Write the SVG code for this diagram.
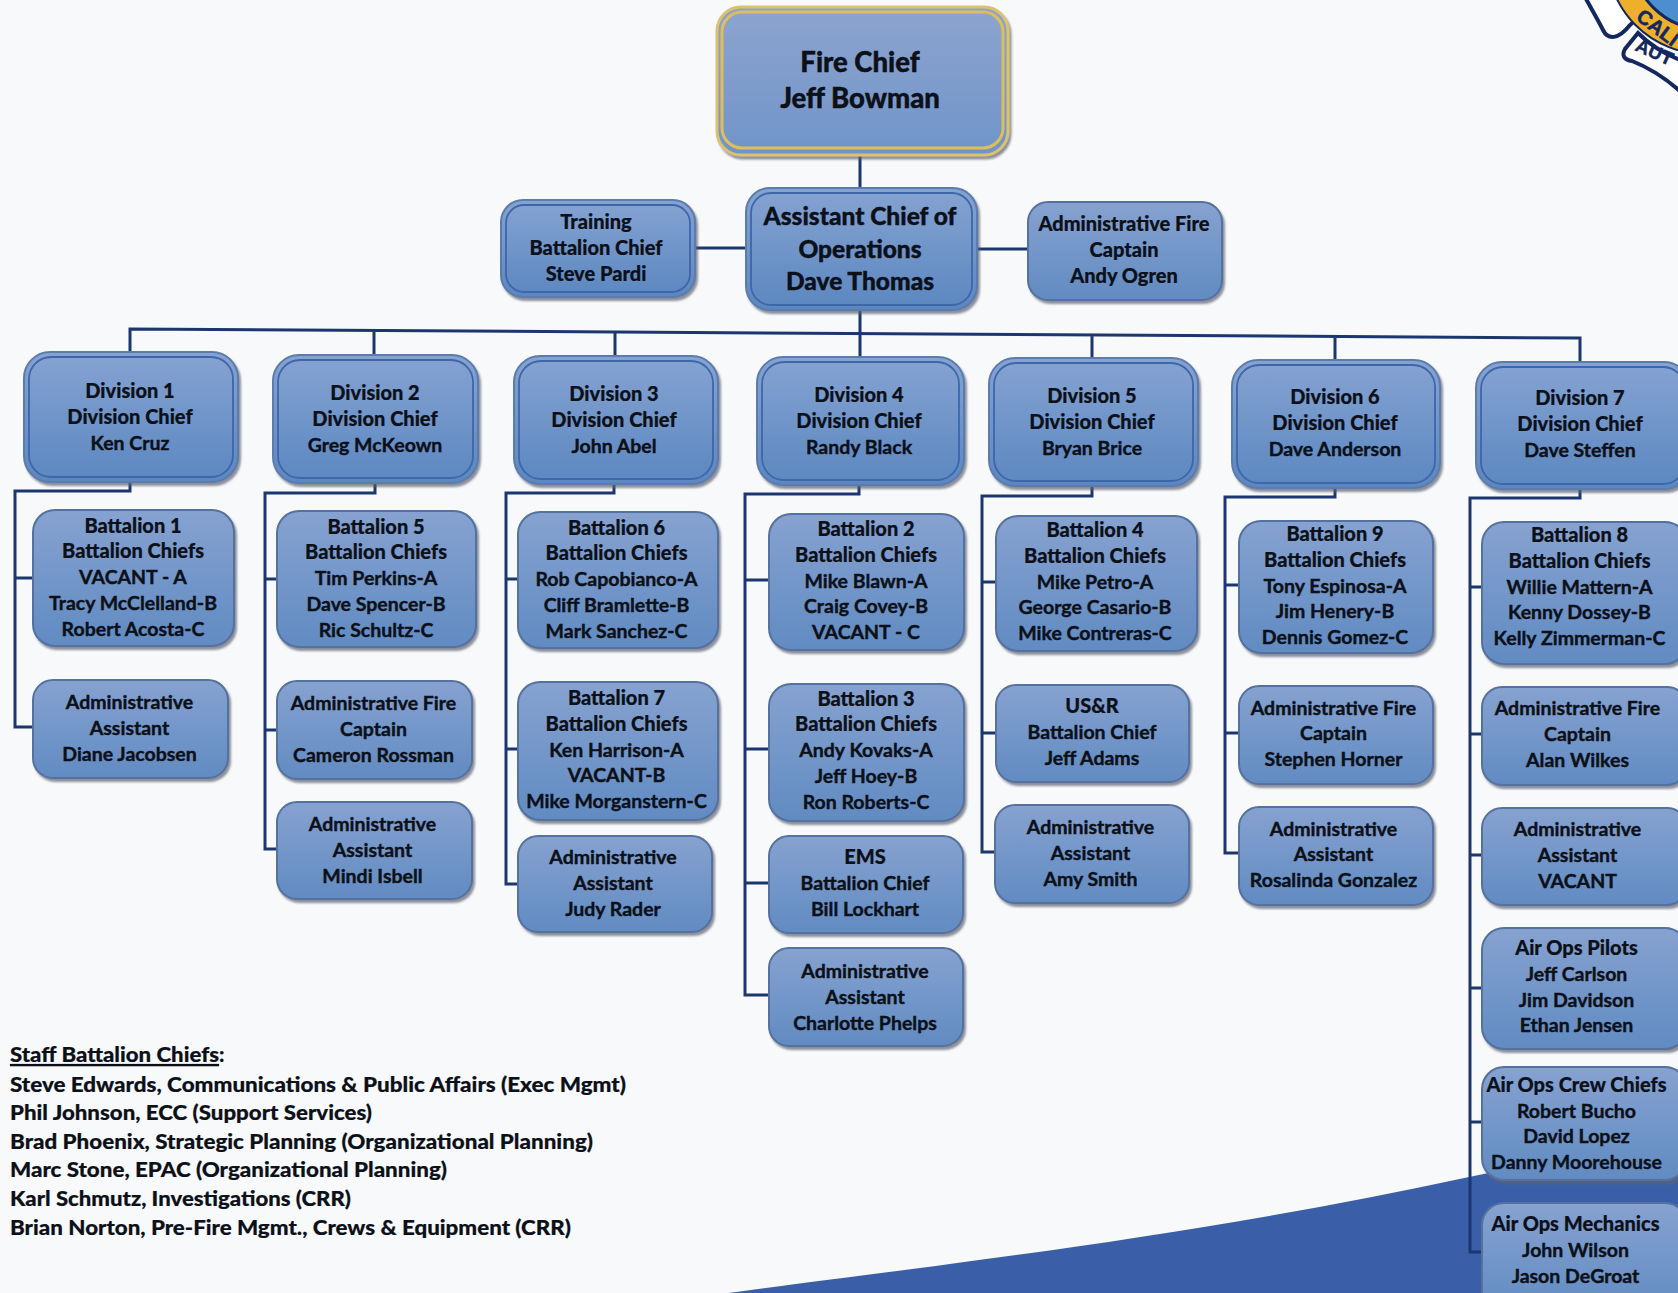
<svg xmlns="http://www.w3.org/2000/svg" width="1678" height="1293" viewBox="0 0 1678 1293">
<style>
text{font-family:Lato,"Liberation Sans",sans-serif;font-weight:700;fill:#0c1018;text-anchor:middle;font-size:19.5px;stroke:#0c1018;stroke-width:.4px}
.h{font-weight:900;font-size:20px;stroke-width:.2px}
.chief{font-size:27.5px;font-weight:900}
.asst{font-size:24.5px;font-weight:900}
.staff{text-anchor:start;font-size:21px;font-weight:900;stroke-width:.2px}
.b{fill:url(#gb);stroke:#55719f;stroke-width:2;filter:url(#sh)}
.d{fill:url(#gd);stroke:#5c7bae;stroke-width:2;filter:url(#sh)}
.i{fill:none;stroke:#3d67a8;stroke-width:1.8}
.c{fill:none;stroke:#1c3670;stroke-width:3}
.logo{text-anchor:start;font-family:"Liberation Sans",sans-serif;font-weight:700;fill:#14275f;stroke:#14275f}
</style>
<defs>
<linearGradient id="gb" x1="0" y1="0" x2="0" y2="1"><stop offset="0" stop-color="#86a2d0"/><stop offset="1" stop-color="#618bc2"/></linearGradient>
<linearGradient id="gd" x1="0" y1="0" x2="0" y2="1"><stop offset="0" stop-color="#86a3d2"/><stop offset="1" stop-color="#5b87c0"/></linearGradient>
<linearGradient id="gc" x1="0" y1="0" x2="0" y2="1"><stop offset="0" stop-color="#8da4cf"/><stop offset="1" stop-color="#7094c8"/></linearGradient>
<filter id="sh" x="-10%" y="-10%" width="125%" height="125%"><feDropShadow dx="2" dy="3" stdDeviation="1" flood-color="#5d6470" flood-opacity=".7"/></filter>
</defs>
<rect width="1678" height="1293" fill="#f8f9fb"/>
<path id="wave" d="M728 1293C880 1272 1180 1240 1469 1177C1550 1160 1620 1143 1678 1128V1293Z" fill="#3a5fa8"/>
<g id="logo">
<path d="M1585 -3C1592 10 1598 20 1603 30C1608 40 1618 40 1630 25L1660 -3Z" fill="#fff" stroke="#14275f" stroke-width="4"/>
<circle cx="1705" cy="-44" r="98" fill="#eeb02a" stroke="#14275f" stroke-width="2"/>
<circle cx="1705" cy="-44" r="73" fill="#4c8fd0" stroke="#14275f" stroke-width="3"/>
<path d="M1638 33L1625 49C1621 56 1625 60 1632 61C1650 68 1665 78 1680 91V60C1665 54 1650 45 1638 33Z" fill="#fff" stroke="#14275f" stroke-width="4"/>
<text class="logo" transform="translate(1635,19) rotate(37)" style="font-size:20px;stroke-width:.5px">CALI</text>
<text class="logo" transform="translate(1634,50) rotate(24)" style="font-size:19px;stroke-width:.4px">AUT</text>
</g>
<g id="connectors">
<path class="c" d="M860 152V188M860 310V358M695 248H746M977 249H1028"/>
<path class="c" d="M130 352V329L1580 338V362M374 331V355M615 332V356M1092 335V358M1335 336V360"/>
<path class="c" d="M130 482V491H15V727H33M15 578H33"/>
<path class="c" d="M375 483V493H265V849H277M265 579H277M265 730H277"/>
<path class="c" d="M614 484V493H506V884H518M506 579H518M506 749H518"/>
<path class="c" d="M859 485V494H745V995H769M745 580H769M745 749H769M745 883H769"/>
<path class="c" d="M1092 486V496H982V852H995M982 582H995M982 733H995"/>
<path class="c" d="M1335 488V497H1225V853H1239M1225 585H1239M1225 733H1239"/>
<path class="c" d="M1580 489V498H1470V1252H1482M1470 587H1482M1470 734H1482M1470 855H1482M1470 988H1482M1470 1122H1482"/>
</g>
<g id="fire-chief"><rect x="717" y="7" width="291" height="148" rx="24" fill="url(#gc)" stroke="#dcc26e" stroke-width="3" filter="url(#sh)"/><rect x="722" y="12" width="281" height="136" rx="20" fill="none" stroke="#dfbd5c" stroke-width="3"/><text class="chief" x="860" y="72">Fire Chief<tspan x="860" dy="36">Jeff Bowman</tspan></text></g>
<g id="training"><rect class="d" x="501" y="200" width="194" height="97" rx="22"/><rect class="i" x="506" y="205" width="184" height="87" rx="18"/><text class="h" x="596" y="229">Training<tspan x="596" dy="26">Battalion Chief</tspan><tspan x="596" dy="26">Steve Pardi</tspan></text></g>
<g id="assistant-chief"><rect class="d" x="746" y="188" width="231" height="122" rx="24"/><rect class="i" x="751" y="193" width="221" height="112" rx="20"/><text class="asst" x="860" y="225">Assistant Chief of<tspan x="860" dy="33">Operations</tspan><tspan x="860" dy="32">Dave Thomas</tspan></text></g>
<g id="admin-captain"><rect class="b" x="1028" y="202" width="194" height="98" rx="20"/><text class="h" x="1124" y="231">Administrative Fire<tspan x="1124" dy="26">Captain</tspan><tspan x="1124" dy="26">Andy Ogren</tspan></text></g>
<g id="division-1"><rect class="d" x="24" y="352" width="214" height="130" rx="26"/><rect class="i" x="29" y="357" width="204" height="120" rx="22"/><text x="130" y="398"><tspan class="h">Division 1</tspan><tspan class="h" x="130" dy="26">Division Chief</tspan><tspan x="130" dy="26">Ken Cruz</tspan></text></g>
<g id="division-2"><rect class="d" x="273" y="355" width="205" height="128" rx="26"/><rect class="i" x="278" y="360" width="195" height="118" rx="22"/><text x="375" y="400"><tspan class="h">Division 2</tspan><tspan class="h" x="375" dy="26">Division Chief</tspan><tspan x="375" dy="26">Greg McKeown</tspan></text></g>
<g id="division-3"><rect class="d" x="514" y="356" width="204" height="128" rx="26"/><rect class="i" x="519" y="361" width="194" height="118" rx="22"/><text x="614" y="401"><tspan class="h">Division 3</tspan><tspan class="h" x="614" dy="26">Division Chief</tspan><tspan x="614" dy="26">John Abel</tspan></text></g>
<g id="division-4"><rect class="d" x="757" y="357" width="207" height="128" rx="26"/><rect class="i" x="762" y="362" width="197" height="118" rx="22"/><text x="859" y="402"><tspan class="h">Division 4</tspan><tspan class="h" x="859" dy="26">Division Chief</tspan><tspan x="859" dy="26">Randy Black</tspan></text></g>
<g id="division-5"><rect class="d" x="989" y="358" width="209" height="128" rx="26"/><rect class="i" x="994" y="363" width="199" height="118" rx="22"/><text x="1092" y="403"><tspan class="h">Division 5</tspan><tspan class="h" x="1092" dy="26">Division Chief</tspan><tspan x="1092" dy="26">Bryan Brice</tspan></text></g>
<g id="division-6"><rect class="d" x="1232" y="360" width="208" height="128" rx="26"/><rect class="i" x="1237" y="365" width="198" height="118" rx="22"/><text x="1335" y="404"><tspan class="h">Division 6</tspan><tspan class="h" x="1335" dy="26">Division Chief</tspan><tspan x="1335" dy="26">Dave Anderson</tspan></text></g>
<g id="division-7"><rect class="d" x="1476" y="362" width="214" height="127" rx="26"/><rect class="i" x="1481" y="367" width="204" height="117" rx="22"/><text x="1580" y="405"><tspan class="h">Division 7</tspan><tspan class="h" x="1580" dy="26">Division Chief</tspan><tspan x="1580" dy="26">Dave Steffen</tspan></text></g>
<g id="battalion-1"><rect class="b" x="33" y="510" width="201" height="136" rx="22"/><text x="133" y="532.5"><tspan class="h">Battalion 1</tspan><tspan class="h" x="133" dy="25.8">Battalion Chiefs</tspan><tspan x="133" dy="25.8">VACANT - A</tspan><tspan x="133" dy="25.8">Tracy McClelland-B</tspan><tspan x="133" dy="25.8">Robert Acosta-C</tspan></text></g>
<g id="admin-1"><rect class="b" x="33" y="680" width="195" height="98" rx="20"/><text x="129.5" y="709">Administrative<tspan x="129.5" dy="26">Assistant</tspan><tspan x="129.5" dy="26">Diane Jacobsen</tspan></text></g>
<g id="battalion-5"><rect class="b" x="277" y="511" width="199" height="136" rx="22"/><text x="376" y="533.5"><tspan class="h">Battalion 5</tspan><tspan class="h" x="376" dy="25.8">Battalion Chiefs</tspan><tspan x="376" dy="25.8">Tim Perkins-A</tspan><tspan x="376" dy="25.8">Dave Spencer-B</tspan><tspan x="376" dy="25.8">Ric Schultz-C</tspan></text></g>
<g id="captain-2"><rect class="b" x="277" y="681" width="195" height="98" rx="20"/><text x="373.5" y="710">Administrative Fire<tspan x="373.5" dy="25.8">Captain</tspan><tspan x="373.5" dy="25.8">Cameron Rossman</tspan></text></g>
<g id="admin-2"><rect class="b" x="277" y="802" width="195" height="97" rx="20"/><text x="372.5" y="831">Administrative<tspan x="372.5" dy="25.8">Assistant</tspan><tspan x="372.5" dy="25.8">Mindi Isbell</tspan></text></g>
<g id="battalion-6"><rect class="b" x="518" y="512" width="200" height="136" rx="22"/><text x="616.5" y="534.5"><tspan class="h">Battalion 6</tspan><tspan class="h" x="616.5" dy="25.8">Battalion Chiefs</tspan><tspan x="616.5" dy="25.8">Rob Capobianco-A</tspan><tspan x="616.5" dy="25.8">Cliff Bramlette-B</tspan><tspan x="616.5" dy="25.8">Mark Sanchez-C</tspan></text></g>
<g id="battalion-7"><rect class="b" x="518" y="682" width="200" height="138" rx="22"/><text x="616.5" y="705"><tspan class="h">Battalion 7</tspan><tspan class="h" x="616.5" dy="25.8">Battalion Chiefs</tspan><tspan x="616.5" dy="25.8">Ken Harrison-A</tspan><tspan x="616.5" dy="25.8">VACANT-B</tspan><tspan x="616.5" dy="25.8">Mike Morganstern-C</tspan></text></g>
<g id="admin-3"><rect class="b" x="518" y="836" width="194" height="96" rx="20"/><text x="613" y="864">Administrative<tspan x="613" dy="25.8">Assistant</tspan><tspan x="613" dy="25.8">Judy Rader</tspan></text></g>
<g id="battalion-2"><rect class="b" x="769" y="514" width="195" height="136" rx="22"/><text x="866" y="536"><tspan class="h">Battalion 2</tspan><tspan class="h" x="866" dy="25.8">Battalion Chiefs</tspan><tspan x="866" dy="25.8">Mike Blawn-A</tspan><tspan x="866" dy="25.8">Craig Covey-B</tspan><tspan x="866" dy="25.8">VACANT - C</tspan></text></g>
<g id="battalion-3"><rect class="b" x="769" y="684" width="195" height="137" rx="22"/><text x="866" y="705.5"><tspan class="h">Battalion 3</tspan><tspan class="h" x="866" dy="25.8">Battalion Chiefs</tspan><tspan x="866" dy="25.8">Andy Kovaks-A</tspan><tspan x="866" dy="25.8">Jeff Hoey-B</tspan><tspan x="866" dy="25.8">Ron Roberts-C</tspan></text></g>
<g id="ems"><rect class="b" x="769" y="836" width="194" height="97" rx="20"/><text x="865" y="864"><tspan class="h">EMS</tspan><tspan x="865" dy="25.8">Battalion Chief</tspan><tspan x="865" dy="25.8">Bill Lockhart</tspan></text></g>
<g id="admin-4"><rect class="b" x="769" y="948" width="194" height="98" rx="20"/><text x="865" y="978">Administrative<tspan x="865" dy="25.8">Assistant</tspan><tspan x="865" dy="25.8">Charlotte Phelps</tspan></text></g>
<g id="battalion-4"><rect class="b" x="996" y="516" width="201" height="135" rx="22"/><text x="1095" y="537"><tspan class="h">Battalion 4</tspan><tspan class="h" x="1095" dy="25.8">Battalion Chiefs</tspan><tspan x="1095" dy="25.8">Mike Petro-A</tspan><tspan x="1095" dy="25.8">George Casario-B</tspan><tspan x="1095" dy="25.8">Mike Contreras-C</tspan></text></g>
<g id="usr"><rect class="b" x="996" y="685" width="193" height="97" rx="20"/><text x="1092" y="713"><tspan class="h">US&amp;R</tspan><tspan x="1092" dy="25.8">Battalion Chief</tspan><tspan x="1092" dy="25.8">Jeff Adams</tspan></text></g>
<g id="admin-5"><rect class="b" x="995" y="805" width="194" height="98" rx="20"/><text x="1090.5" y="834">Administrative<tspan x="1090.5" dy="25.8">Assistant</tspan><tspan x="1090.5" dy="25.8">Amy Smith</tspan></text></g>
<g id="battalion-9"><rect class="b" x="1239" y="521" width="194" height="132" rx="22"/><text x="1335" y="541"><tspan class="h">Battalion 9</tspan><tspan class="h" x="1335" dy="25.8">Battalion Chiefs</tspan><tspan x="1335" dy="25.8">Tony Espinosa-A</tspan><tspan x="1335" dy="25.8">Jim Henery-B</tspan><tspan x="1335" dy="25.8">Dennis Gomez-C</tspan></text></g>
<g id="captain-6"><rect class="b" x="1239" y="686" width="194" height="98" rx="20"/><text x="1333.5" y="714.5">Administrative Fire<tspan x="1333.5" dy="25.8">Captain</tspan><tspan x="1333.5" dy="25.8">Stephen Horner</tspan></text></g>
<g id="admin-6"><rect class="b" x="1239" y="807" width="194" height="98" rx="20"/><text x="1333.5" y="835.5">Administrative<tspan x="1333.5" dy="25.8">Assistant</tspan><tspan x="1333.5" dy="25.8">Rosalinda Gonzalez</tspan></text></g>
<g id="battalion-8"><rect class="b" x="1482" y="522" width="205" height="142" rx="22"/><text x="1579.5" y="542"><tspan class="h">Battalion 8</tspan><tspan class="h" x="1579.5" dy="25.8">Battalion Chiefs</tspan><tspan x="1579.5" dy="25.8">Willie Mattern-A</tspan><tspan x="1579.5" dy="25.8">Kenny Dossey-B</tspan><tspan x="1579.5" dy="25.8">Kelly Zimmerman-C</tspan></text></g>
<g id="captain-7"><rect class="b" x="1482" y="687" width="205" height="98" rx="20"/><text x="1577.5" y="715">Administrative Fire<tspan x="1577.5" dy="25.8">Captain</tspan><tspan x="1577.5" dy="25.8">Alan Wilkes</tspan></text></g>
<g id="admin-7"><rect class="b" x="1482" y="808" width="205" height="97" rx="20"/><text x="1577.5" y="836">Administrative<tspan x="1577.5" dy="25.8">Assistant</tspan><tspan x="1577.5" dy="25.8">VACANT</tspan></text></g>
<g id="air-ops-pilots"><rect class="b" x="1482" y="928" width="205" height="121" rx="22"/><text x="1576.5" y="955"><tspan class="h">Air Ops Pilots</tspan><tspan x="1576.5" dy="25.8">Jeff Carlson</tspan><tspan x="1576.5" dy="25.8">Jim Davidson</tspan><tspan x="1576.5" dy="25.8">Ethan Jensen</tspan></text></g>
<g id="air-ops-crew-chiefs"><rect class="b" x="1482" y="1067" width="205" height="113" rx="22"/><text x="1576.5" y="1092"><tspan class="h">Air Ops Crew Chiefs</tspan><tspan x="1576.5" dy="25.6">Robert Bucho</tspan><tspan x="1576.5" dy="25.6">David Lopez</tspan><tspan x="1576.5" dy="25.6">Danny Moorehouse</tspan></text></g>
<g id="air-ops-mechanics"><rect class="b" x="1482" y="1203" width="205" height="110" rx="22"/><text x="1575.5" y="1231"><tspan class="h">Air Ops Mechanics</tspan><tspan x="1575.5" dy="25.8">John Wilson</tspan><tspan x="1575.5" dy="25.8">Jason DeGroat</tspan></text></g>
<g id="staff-list">
<text class="staff" x="10" y="1062"><tspan text-decoration="underline" textLength="209" lengthAdjust="spacingAndGlyphs">Staff Battalion Chiefs</tspan>:</text>
<text class="staff" x="10" y="1092" textLength="616" lengthAdjust="spacingAndGlyphs">Steve Edwards, Communications &amp; Public Affairs (Exec Mgmt)</text>
<text class="staff" x="10" y="1120" textLength="362" lengthAdjust="spacingAndGlyphs">Phil Johnson, ECC (Support Services)</text>
<text class="staff" x="10" y="1149" textLength="583" lengthAdjust="spacingAndGlyphs">Brad Phoenix, Strategic Planning (Organizational Planning)</text>
<text class="staff" x="10" y="1177" textLength="437" lengthAdjust="spacingAndGlyphs">Marc Stone, EPAC (Organizational Planning)</text>
<text class="staff" x="10" y="1206" textLength="341" lengthAdjust="spacingAndGlyphs">Karl Schmutz, Investigations (CRR)</text>
<text class="staff" x="10" y="1235" textLength="561" lengthAdjust="spacingAndGlyphs">Brian Norton, Pre-Fire Mgmt., Crews &amp; Equipment (CRR)</text>
</g>
</svg>
